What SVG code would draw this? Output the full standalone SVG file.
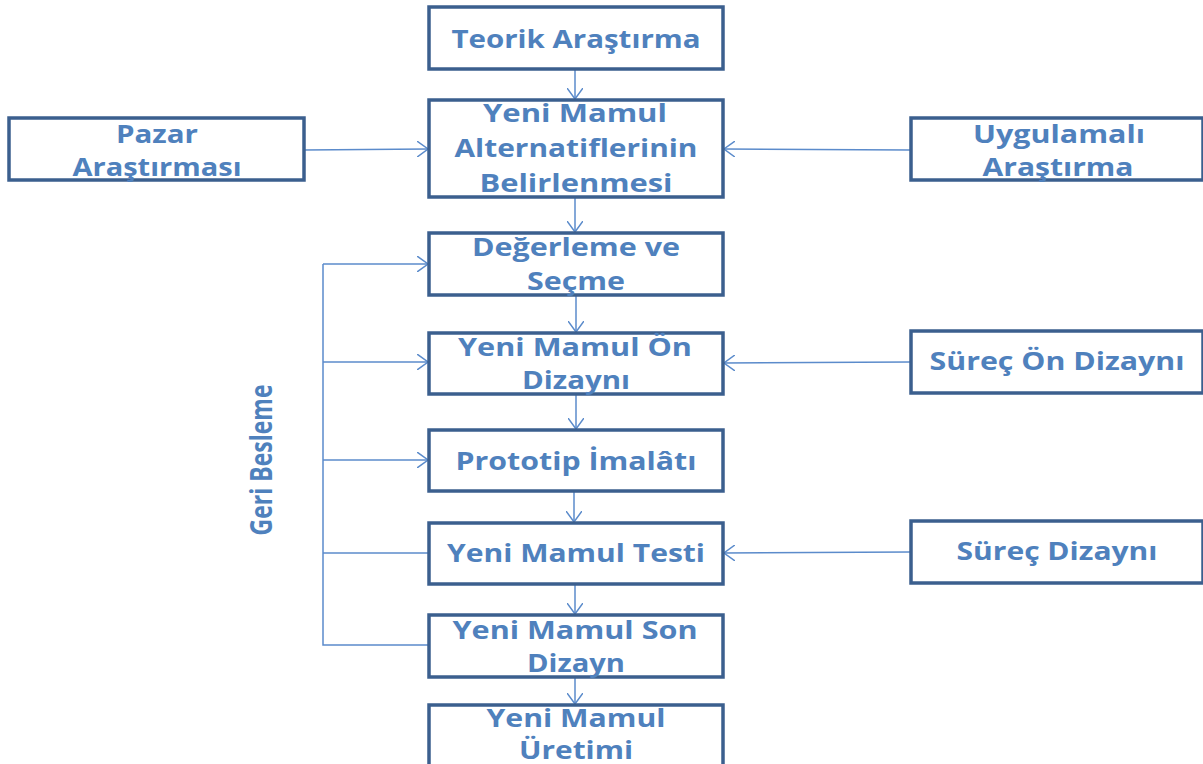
<svg xmlns="http://www.w3.org/2000/svg" width="1203" height="764" viewBox="0 0 1203 764">
<style>
.box{fill:#fff;stroke:#3B5F8E;stroke-width:3.5}
.t{font-family:"Open Sans","Liberation Sans",sans-serif;font-weight:bold;font-size:25px;fill:#4F81BD;text-anchor:middle}
.v{font-family:"Open Sans","Liberation Sans",sans-serif;font-weight:bold;font-size:30px;fill:#4F81BD;text-anchor:middle}
.c{fill:none;stroke:#5B8BCB;stroke-width:1.5}
</style>
<defs>
<marker id="ah" viewBox="0 0 12 16" refX="11" refY="8" markerWidth="12" markerHeight="16" markerUnits="userSpaceOnUse" orient="auto">
<path d="M0,0 L11,8 L0,16" fill="none" stroke="#5B8BCB" stroke-width="1.5"/>
</marker>
</defs>
<rect width="1203" height="764" fill="#fff"/>
<g id="connectors">
<line class="c" x1="575" y1="69" x2="575" y2="99" marker-end="url(#ah)"/>
<line class="c" x1="304" y1="150" x2="428" y2="149" marker-end="url(#ah)"/>
<line class="c" x1="910" y1="150" x2="724" y2="149" marker-end="url(#ah)"/>
<line class="c" x1="575" y1="197" x2="575" y2="232" marker-end="url(#ah)"/>
<line class="c" x1="576" y1="295" x2="576" y2="332" marker-end="url(#ah)"/>
<line class="c" x1="576" y1="394" x2="576" y2="429" marker-end="url(#ah)"/>
<line class="c" x1="574" y1="491" x2="574" y2="522" marker-end="url(#ah)"/>
<line class="c" x1="575" y1="584" x2="575" y2="614" marker-end="url(#ah)"/>
<line class="c" x1="575" y1="677" x2="575" y2="704" marker-end="url(#ah)"/>
<line class="c" x1="910" y1="362" x2="724" y2="363" marker-end="url(#ah)"/>
<line class="c" x1="910" y1="552" x2="724" y2="553" marker-end="url(#ah)"/>
<path class="c" d="M429,645 L323,645 L323,264"/>
<line class="c" x1="323" y1="264" x2="428" y2="264" marker-end="url(#ah)"/>
<line class="c" x1="323" y1="362" x2="428" y2="362" marker-end="url(#ah)"/>
<line class="c" x1="323" y1="460" x2="428" y2="460" marker-end="url(#ah)"/>
<line class="c" x1="323" y1="553" x2="429" y2="553"/>
</g>
<g id="geri-besleme">
<text class="v" transform="translate(272,460) rotate(-90)" textLength="151" lengthAdjust="spacingAndGlyphs">Geri Besleme</text>
</g>
<g id="teorik">
<rect class="box" x="429" y="7" width="294" height="62"/>
<text class="t" x="576" y="48" textLength="249" lengthAdjust="spacingAndGlyphs">Teorik Araştırma</text>
</g>
<g id="alternatif">
<rect class="box" x="429" y="100" width="294" height="97"/>
<text class="t" x="575" y="122" textLength="184" lengthAdjust="spacingAndGlyphs">Yeni Mamul</text>
<text class="t" x="576" y="157" textLength="243" lengthAdjust="spacingAndGlyphs">Alternatiflerinin</text>
<text class="t" x="576" y="192" textLength="193" lengthAdjust="spacingAndGlyphs">Belirlenmesi</text>
</g>
<g id="pazar">
<rect class="box" x="9" y="118" width="295" height="62"/>
<text class="t" x="157" y="143" textLength="82" lengthAdjust="spacingAndGlyphs">Pazar</text>
<text class="t" x="157" y="176" textLength="169" lengthAdjust="spacingAndGlyphs">Araştırması</text>
</g>
<g id="uygulamali">
<rect class="box" x="911" y="118" width="292" height="62"/>
<text class="t" x="1059" y="143" textLength="172" lengthAdjust="spacingAndGlyphs">Uygulamalı</text>
<text class="t" x="1058" y="176" textLength="151" lengthAdjust="spacingAndGlyphs">Araştırma</text>
</g>
<g id="degerleme">
<rect class="box" x="429" y="233" width="294" height="62"/>
<text class="t" x="576" y="256" textLength="208" lengthAdjust="spacingAndGlyphs">Değerleme ve</text>
<text class="t" x="576" y="290" textLength="98" lengthAdjust="spacingAndGlyphs">Seçme</text>
</g>
<g id="on-dizayn">
<rect class="box" x="429" y="333" width="294" height="61"/>
<text class="t" x="575" y="356" textLength="234" lengthAdjust="spacingAndGlyphs">Yeni Mamul Ön</text>
<text class="t" x="576" y="389" textLength="108" lengthAdjust="spacingAndGlyphs">Dizaynı</text>
</g>
<g id="prototip">
<rect class="box" x="429" y="430" width="294" height="61"/>
<text class="t" x="576" y="470" textLength="241" lengthAdjust="spacingAndGlyphs">Prototip İmalâtı</text>
</g>
<g id="testi">
<rect class="box" x="429" y="523" width="294" height="61"/>
<text class="t" x="576" y="562" textLength="258" lengthAdjust="spacingAndGlyphs">Yeni Mamul Testi</text>
</g>
<g id="son-dizayn">
<rect class="box" x="429" y="615" width="294" height="62"/>
<text class="t" x="575" y="639" textLength="245" lengthAdjust="spacingAndGlyphs">Yeni Mamul Son</text>
<text class="t" x="576" y="672" textLength="98" lengthAdjust="spacingAndGlyphs">Dizayn</text>
</g>
<g id="uretimi">
<rect class="box" x="429" y="705" width="294" height="70"/>
<text class="t" x="576" y="727" textLength="179" lengthAdjust="spacingAndGlyphs">Yeni Mamul</text>
<text class="t" x="576" y="759" textLength="114" lengthAdjust="spacingAndGlyphs">Üretimi</text>
</g>
<g id="surec-on">
<rect class="box" x="911" y="331" width="292" height="62"/>
<text class="t" x="1057" y="370" textLength="255" lengthAdjust="spacingAndGlyphs">Süreç Ön Dizaynı</text>
</g>
<g id="surec">
<rect class="box" x="911" y="521" width="292" height="62"/>
<text class="t" x="1057" y="560" textLength="201" lengthAdjust="spacingAndGlyphs">Süreç Dizaynı</text>
</g>
</svg>
